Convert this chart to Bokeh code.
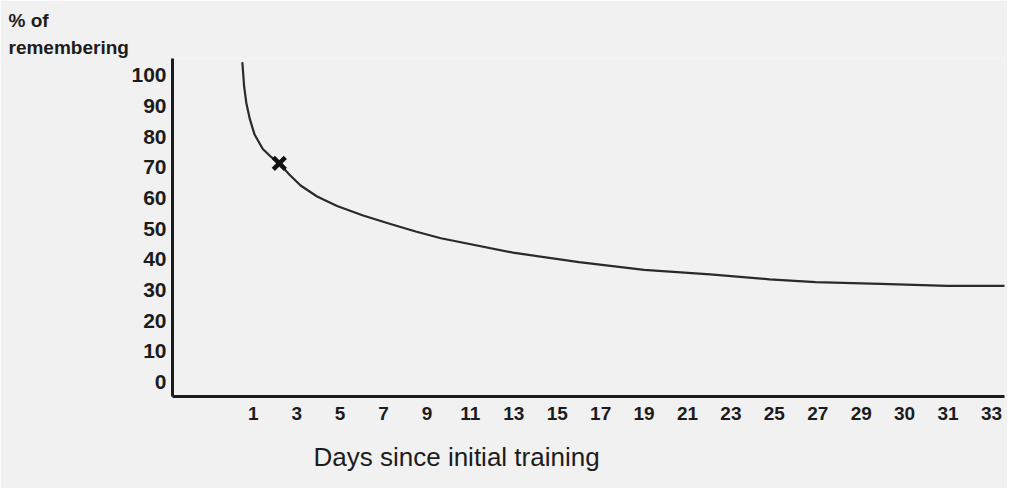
from bokeh.plotting import figure
from bokeh.models import FixedTicker, Range1d, Title
from bokeh.embed import file_html
from bokeh.resources import INLINE

# ---- data ----
day_labels = ["1", "3", "5", "7", "9", "11", "13", "15", "17", "19", "21",
              "23", "25", "27", "29", "30", "31", "33"]
y_ticks = [0, 10, 20, 30, 40, 50, 60, 70, 80, 90, 100]
# curve position along the evenly spaced day slots (0 = label "1") and % remembering
curve_slot = [-0.25, -0.21, -0.16, -0.08, 0.03, 0.22, 0.41, 0.60, 0.83, 1.09,
              1.47, 1.93, 2.53, 3.14, 3.74, 4.32, 5.98, 7.50, 9.00, 10.52,
              11.89, 12.95, 14.45, 15.98, 17.30]
curve_pct = [104.0, 96.3, 91.0, 85.8, 80.7, 76.0, 73.4, 71.3, 67.7, 64.1,
             60.5, 57.4, 54.3, 51.6, 49.1, 46.9, 42.2, 39.1, 36.6, 35.1,
             33.5, 32.6, 32.0, 31.4, 31.4]
mark_slot = [0.60]
mark_pct = [71.3]

BG = "#f1f1f1"
INK = "#1c1c1c"
FONT = "Liberation Sans"

X0, X1 = -1.86, 17.30
Y0, Y1 = -4.7, 105.5
FRAME_W, FRAME_H = 832, 338
LEFT, TOP, BOTTOM, RIGHT = 172, 58, 90, 3

p = figure(width=LEFT + FRAME_W + RIGHT, height=TOP + FRAME_H + BOTTOM,
           x_range=Range1d(X0, X1), y_range=Range1d(Y0, Y1),
           output_backend="svg", toolbar_location=None,
           min_border_left=LEFT, min_border_right=RIGHT,
           min_border_top=TOP, min_border_bottom=BOTTOM)
p.frame_width = FRAME_W
p.frame_height = FRAME_H

p.background_fill_color = BG
p.border_fill_color = BG
p.outline_line_color = None
p.grid.visible = False

# curve and marker
p.line(curve_slot, curve_pct, line_color="#2a2a2a", line_width=2.2,
       line_join="round", line_cap="round")
p.scatter(mark_slot, mark_pct, marker="x", size=17, line_width=4.5,
          line_color="#111111")

# x axis
xa = p.xaxis[0]
xa.ticker = FixedTicker(ticks=list(range(len(day_labels))))
xa.major_label_overrides = {i: lab for i, lab in enumerate(day_labels)}
xa.major_tick_line_color = None
xa.minor_tick_line_color = None
xa.axis_line_width = 3
xa.axis_line_color = INK
xa.major_label_text_font = FONT
xa.major_label_text_font_style = "bold"
xa.major_label_text_font_size = "19px"
xa.major_label_text_color = INK
xa.major_label_standoff = 4

# y axis
ya = p.yaxis[0]
ya.ticker = FixedTicker(ticks=y_ticks)
ya.major_tick_line_color = None
ya.minor_tick_line_color = None
ya.axis_line_width = 3
ya.axis_line_color = INK
ya.major_label_text_font = FONT
ya.major_label_text_font_style = "bold"
ya.major_label_text_font_size = "21px"
ya.major_label_text_color = INK
ya.major_label_standoff = 0

# y-axis caption (two lines, top-left) and x-axis caption
p.add_layout(Title(text="remembering", align="left", offset=-(LEFT - 8),
                   text_font=FONT, text_font_style="bold",
                   text_font_size="19px", text_color=INK, standoff=2),
             "above")
p.add_layout(Title(text="% of", align="left", offset=-(LEFT - 8),
                   text_font=FONT, text_font_style="bold",
                   text_font_size="19px", text_color=INK, standoff=6),
             "above")
p.add_layout(Title(text="Days since initial training", align="left",
                   offset=141, text_font=FONT, text_font_style="normal",
                   text_font_size="26px", text_color=INK, standoff=34),
             "below")

open("out.html", "w").write(file_html(p, INLINE))
